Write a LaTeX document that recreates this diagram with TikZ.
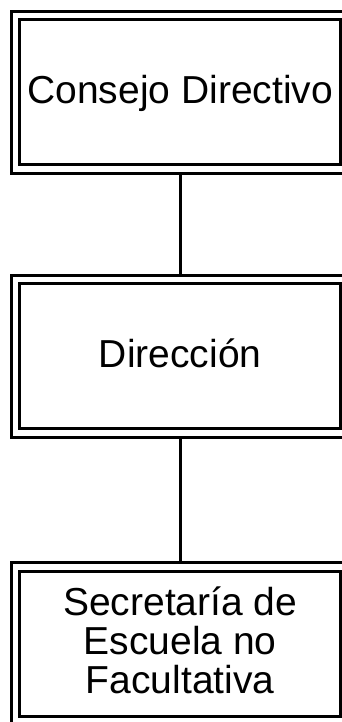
\documentclass[tikz,border=0pt]{standalone}
\usepackage{fontspec}
\setmainfont{Liberation Sans}

\begin{document}
\begin{tikzpicture}[x=1pt, y=-1pt, line width=3pt,
    orgbox/.style={draw, double, double distance=5.5pt, minimum width=329.5pt, minimum height=153.5pt, outer sep=5.75pt, inner sep=0pt, align=center, font=\fontsize{39pt}{39pt}\selectfont, text height=30pt, text depth=7.8pt}]
    \useasboundingbox (0, 0) rectangle (342, 722);
    \path
    (180.25, 92.1) node[orgbox] (cd) {Consejo Directivo}
    (180.25, 356.3) node[orgbox] (dir) {Dirección}
    (180.25, 643.5) node[orgbox, text height=108pt] (sec) {Secretaría de\\Escuela no\\Facultativa};
    \draw
    (cd) -- (dir)
    (dir) -- (sec);
\end{tikzpicture}
\end{document}
